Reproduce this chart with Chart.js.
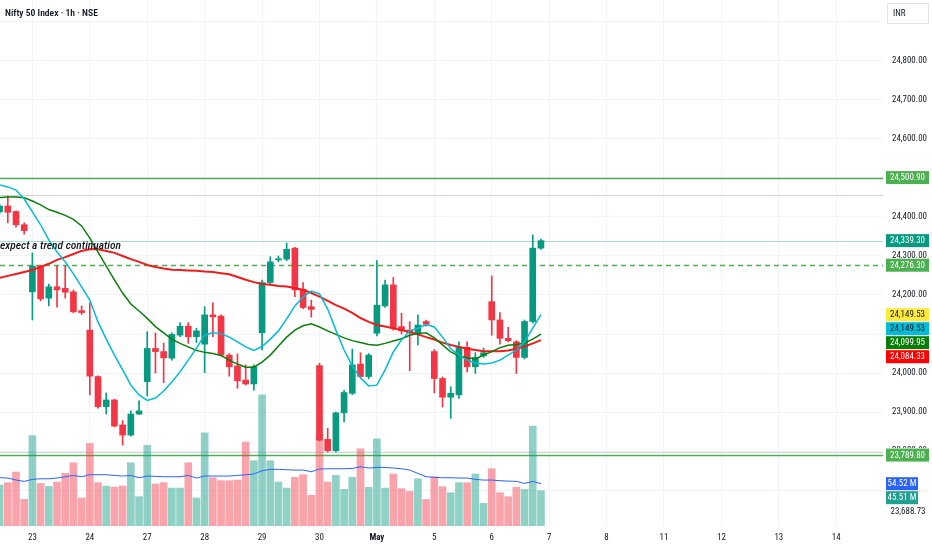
<!DOCTYPE html>
<html lang="en">
<head>
<meta charset="UTF-8">
<title>Nifty 50 Index · 1h · NSE</title>
<script src="https://cdn.jsdelivr.net/npm/chart.js@4"></script>
<style>
  html, body { margin: 0; padding: 0; background: #fff; }
  #wrap { width: 932px; height: 550px; }
</style>
</head>
<body>
<div id="wrap"><canvas id="chart" width="932" height="550"></canvas></div>
<script>
// hourly candles, 22 Apr (tail) .. 6 May
const open  = [24413,24428,24414,24380,24208,24274,24192,24221,24217,24208,24160,24110,23991,23914,23931,23867,23841,23895,
               23978,24063,24055,24038,24097,24120,24093,24074,24149,24146,24046,24018,23982,23972,24103,24232,24290,24292,
               24320,24215,24170,24019,23830,23801,23898,23948,24023,23991,24102,24172,24226,24119,24110,24103,24132,24055,
               23986,23938,23944,24066,24016,24044,24183,24136,24089,24080,24040,24132,24320];
const high  = [24433,24454,24416,24385,24308,24276,24228,24274,24274,24213,24172,24180,23993,23949,23933,23878,23903,23929,
               24106,24103,24077,24103,24129,24129,24115,24170,24180,24149,24050,24049,24021,24021,24238,24298,24300,24333,
               24322,24232,24187,24025,23858,23900,23956,24061,24052,24050,24288,24238,24245,24153,24132,24149,24136,24060,
               23990,23965,24080,24080,24052,24064,24249,24155,24117,24083,24136,24354,24343];
const low   = [24408,24385,24374,24356,24136,24185,24172,24169,24192,24154,24150,23944,23910,23895,23862,23815,23838,23893,
               23941,24000,23975,24033,24093,24076,24078,24001,24093,24044,23992,23961,23969,23956,24059,24228,24285,24288,
               24196,24165,24143,23826,23798,23798,23875,23945,23988,23985,24095,24168,24110,24100,24006,24072,24120,23949,
               23913,23884,23935,24003,23999,24040,24097,24074,24080,23999,24036,24128,24317];
const close = [24428,24412,24380,24365,24274,24190,24221,24213,24207,24157,24155,23992,23914,23931,23864,23841,23895,23903,
               24063,24055,24039,24099,24120,24093,24108,24149,24144,24046,24016,23980,23972,24016,24232,24285,24293,24317,
               24213,24168,24163,23828,23801,23898,23950,24021,23991,24046,24174,24226,24115,24108,24103,24123,24125,23986,
               23938,23948,24067,24016,24040,24052,24136,24089,24083,24040,24132,24320,24339.30];
// volume in millions and its moving average
const volume = [52.8,55.8,69.5,34.3,116.7,54.9,51.1,56.7,67.8,81.5,36.1,106.4,55.8,51.5,50.2,51.5,81.5,37.8,
                103.9,54.1,55.8,48.9,48.9,81.5,36.1,120.2,62.2,58.4,58.4,59.2,108.2,84.1,169,84.1,56.7,48.9,
                62.7,66.1,39.5,118,56.7,65.2,47.2,62.7,99.6,49.8,112.4,48.9,67,48.1,44.6,60.9,34.3,63.5,
                50.6,42.9,55.8,55.8,67,29.2,73.8,42.9,37.8,49.8,47.2,128.8,45.51];
const volumeMA = [62.2,61.8,59.2,57.5,60.1,60.9,60.9,61.8,63.5,65.2,63.5,66.1,66.1,66.1,65.2,64.4,65.2,62.2,
                  64.4,64,63.5,63.5,63.5,65.2,61.8,64.4,64.4,64.4,64.4,65.2,66.1,67,71.2,73,73,72.5,
                  72.1,72.1,70,73.4,73.8,73.8,73.8,74.2,76.4,74.7,75.5,75.5,74.7,73.8,72.1,67.8,63.5,62.7,
                  62.2,62.2,61.8,61.8,60.1,59.2,59.2,58.4,57.9,57.5,54.9,57.5,54.52];
// moving averages on price
const maFast = [24482,24477,24469,24446,24413,24380,24341,24310,24285,24254,24221,24187,24131,24087,24046,24008,23969,23944,
                23930,23936,23954,23977,24003,24033,24064,24097,24103,24101,24092,24080,24067,24058,24068,24087,24108,24139,
                24172,24195,24210,24203,24164,24110,24059,24018,23987,23967,23969,24008,24054,24085,24108,24115,24124,24118,
                24092,24062,24046,24033,24026,24023,24026,24033,24046,24059,24080,24115,24149.53];
const maMid  = [24450,24451,24451,24449,24441,24431,24419,24412,24404,24394,24377,24346,24310,24274,24239,24205,24177,24159,
                24140,24119,24103,24087,24076,24067,24058,24053,24050,24045,24033,24023,24015,24015,24028,24046,24069,24092,
                24110,24121,24126,24118,24108,24099,24090,24083,24078,24073,24071,24076,24082,24088,24097,24101,24103,24090,
                24072,24054,24044,24039,24036,24046,24055,24065,24071,24073,24077,24087,24099.95];
const maSlow = [24244,24249,24254,24259,24264,24272,24280,24290,24297,24305,24313,24317,24317,24313,24308,24300,24292,24285,
                24277,24272,24268,24265,24264,24263,24262,24260,24259,24256,24253,24246,24239,24233,24228,24226,24223,24222,
                24218,24213,24205,24196,24185,24174,24165,24154,24141,24131,24123,24119,24115,24110,24105,24099,24092,24086,
                24078,24072,24067,24062,24059,24056,24056,24056,24058,24062,24068,24076,24084.33];

const dayTickIndex = [4, 11, 18, 25, 32, 39, 46, 53, 60, 67, 74, 81, 88, 95, 102];
const dayLabels = ['23', '24', '27', '28', '29', '30', 'May', '5', '6', '7', '8', '11', '12', '13', '14'];

// drawn horizontal levels and the axis tags
const levelPrices = [24500.90, 24456, 24339.30, 24276.30, 23797, 23789.80];
const priceTags = [24500.90, 24339.30, 24276.30, 24149.53, 24149.53, 24099.95, 24084.33, 23789.80];
const volumeTags = [54.52, 45.51];
const lowTag = 23688.73;
const noteText = 'expect a trend continuation';
const notePrice = 24326;

// styles
const GREEN = '#089981', RED = '#f23645', TEXT = '#131722';
const levelColors = ['#4caf50', '#d1d4dc', 'rgba(8,153,129,0.35)', '#4caf50', '#d1d4dc', '#4caf50'];
const levelWidths = [1.5, 1, 1, 1.5, 1, 1.5];
const levelDash = [[], [], [], [5, 4], [], []];
const priceTagBg = ['#4caf50', '#089981', '#4caf50', '#ffeb3b', '#00bcd4', '#0b7d0b', '#ff0000', '#4caf50'];
const priceTagFg = ['#fff', '#fff', '#fff', TEXT, TEXT, '#fff', '#fff', '#fff'];
const volumeTagBg = ['#2962ff', '#22a08f'];

// pick a narrow family if one is installed, then size fonts to the widths in the picture
const probe = document.createElement('canvas').getContext('2d');
function hasFont(f) {
    probe.font = '20px monospace';
    const m = probe.measureText('0123456789 abcxyz').width;
    probe.font = `20px "${f}", monospace`;
    return Math.abs(probe.measureText('0123456789 abcxyz').width - m) > 0.5;
}
const FAMILY = ['Liberation Sans Narrow', 'Roboto Condensed', 'DejaVu Sans Condensed', 'Roboto'].find(hasFont) || 'sans-serif';
function sizeFor(text, width, style) {
    probe.font = `${style} 20px "${FAMILY}"`;
    return +(20 * width / probe.measureText(text).width).toFixed(2);
}
const axisSize = sizeFor('24,400.00', 35, 'normal');
const titleSize = sizeFor('Nifty 50 Index · 1h · NSE', 93, '600');
const noteSize = sizeFor(noteText, 121, 'italic 500');
const fmt = v => v.toLocaleString('en-US', { minimumFractionDigits: 2, maximumFractionDigits: 2 });

const idx = open.map((_, i) => i);
const isUp = i => close[i] >= open[i];
const candleColors = idx.map(i => isUp(i) ? GREEN : RED);
const volumeColors = idx.map(i => isUp(i) ? 'rgba(8,153,129,0.45)' : 'rgba(242,54,69,0.45)');
const series = arr => idx.map(i => ({ x: i, y: arr[i] }));

const overlay = {
    id: 'overlay',
    beforeDatasetsDraw(chart) {
        const { ctx, chartArea: a, scales: { y } } = chart;
        ctx.save();
        levelPrices.forEach((p, k) => {
            const py = Math.round(y.getPixelForValue(p)) + 0.5;
            ctx.strokeStyle = levelColors[k];
            ctx.lineWidth = levelWidths[k];
            ctx.setLineDash(levelDash[k]);
            ctx.beginPath();
            ctx.moveTo(a.left, py);
            ctx.lineTo(a.right, py);
            ctx.stroke();
        });
        ctx.restore();
    },
    afterDraw(chart) {
        const { ctx, chartArea: a, scales: { y, yv } } = chart;
        ctx.save();
        ctx.textBaseline = 'middle';

        // axis tags, stacked so they never overlap
        const tags = [];
        priceTags.forEach((p, k) => tags.push({ y: y.getPixelForValue(p), text: fmt(p), bg: priceTagBg[k], fg: priceTagFg[k], w: 43 }));
        volumeTags.forEach((v, k) => tags.push({ y: yv.getPixelForValue(v), text: v.toFixed(2) + ' M', bg: volumeTagBg[k], fg: '#fff', w: 32 }));
        tags.push({ y: y.getPixelForValue(lowTag), text: fmt(lowTag), bg: null, fg: TEXT, w: 43 });
        tags.sort((p, q) => p.y - q.y);
        const h = 14;
        let prev = -Infinity;
        ctx.font = `${axisSize}px "${FAMILY}"`;
        ctx.textAlign = 'center';
        tags.forEach(t => {
            if (t.y < prev + h) t.y = prev + h;
            prev = t.y;
            const x0 = a.right + 3;
            if (t.bg) {
                ctx.fillStyle = '#fff';
                ctx.fillRect(x0 - 1, t.y - h / 2, 47, h);
                ctx.fillStyle = t.bg;
                ctx.fillRect(x0, t.y - h / 2 + 0.5, t.w, h - 1);
            }
            ctx.fillStyle = t.fg;
            ctx.fillText(t.text, x0 + (t.bg ? t.w / 2 : 22), t.y + 0.5);
        });

        // note on the chart
        ctx.textAlign = 'left';
        ctx.fillStyle = TEXT;
        ctx.font = `italic 500 ${noteSize}px "${FAMILY}"`;
        ctx.fillText(noteText, a.left, y.getPixelForValue(notePrice));

        // header and currency box
        ctx.font = `600 ${titleSize}px "${FAMILY}"`;
        ctx.fillText('Nifty 50 Index · 1h · NSE', 5, 14);
        ctx.fillStyle = '#fff';
        ctx.strokeStyle = '#e0e3eb';
        ctx.lineWidth = 1;
        ctx.fillRect(887.5, 3.5, 41, 20);
        ctx.strokeRect(887.5, 3.5, 41, 20);
        ctx.fillStyle = TEXT;
        ctx.font = `${axisSize}px "${FAMILY}"`;
        ctx.fillText('INR', 893, 14);
        ctx.restore();
    }
};

new Chart(document.getElementById('chart'), {
    type: 'bar',
    data: {
        datasets: [
            { type: 'line', label: 'MA fast', data: series(maFast), borderColor: '#00bcd4', borderWidth: 1.5, pointRadius: 0, order: 1 },
            { type: 'line', label: 'MA mid', data: series(maMid), borderColor: '#0d7d0d', borderWidth: 1.5, pointRadius: 0, order: 2 },
            { type: 'line', label: 'MA slow', data: series(maSlow), borderColor: '#f01c1c', borderWidth: 2, pointRadius: 0, order: 3 },
            { label: 'Body', data: idx.map(i => ({ x: i, y: [open[i], close[i]] })), backgroundColor: candleColors,
              barThickness: 6, minBarLength: 1, grouped: false, order: 4 },
            { label: 'Wick', data: idx.map(i => ({ x: i, y: [low[i], high[i]] })), backgroundColor: candleColors,
              barThickness: 1, grouped: false, order: 5 },
            { type: 'line', label: 'Volume MA', data: series(volumeMA), yAxisID: 'yv', borderColor: '#2962ff', borderWidth: 1, pointRadius: 0, order: 6 },
            { label: 'Volume', data: series(volume), yAxisID: 'yv', backgroundColor: volumeColors, barThickness: 7, grouped: false, order: 7 }
        ]
    },
    options: {
        responsive: false,
        animation: false,
        layout: { padding: 0 },
        plugins: { legend: { display: false }, tooltip: { enabled: false } },
        scales: {
            x: {
                type: 'linear', min: 0.05, max: 107.7, offset: false,
                grid: { color: '#f0f3fa', drawTicks: false, offset: false },
                border: { display: false },
                afterBuildTicks: s => { s.ticks = dayTickIndex.map(v => ({ value: v })); },
                afterFit: s => { s.height = 24; s.paddingLeft = 0; s.paddingRight = 0; },
                ticks: {
                    autoSkip: false, maxRotation: 0, padding: 6, color: TEXT,
                    callback: v => dayLabels[dayTickIndex.indexOf(v)],
                    font: c => ({ family: FAMILY, size: axisSize, weight: c.tick && c.tick.label === 'May' ? 'bold' : 'normal' })
                }
            },
            y: {
                position: 'right', min: 23608, max: 24956,
                grid: { color: '#f0f3fa', drawTicks: false },
                border: { display: false },
                afterFit: s => { s.width = 49; s.paddingTop = 0; s.paddingBottom = 0; },
                ticks: {
                    stepSize: 100, includeBounds: false, padding: 9, color: TEXT,
                    font: { family: FAMILY, size: axisSize },
                    callback: v => v > 24850 ? '' : fmt(v)
                }
            },
            yv: { display: false, min: 0, max: 678, afterFit: s => { s.paddingTop = 0; s.paddingBottom = 0; } }
        }
    },
    plugins: [overlay]
});
</script>
</body>
</html>
